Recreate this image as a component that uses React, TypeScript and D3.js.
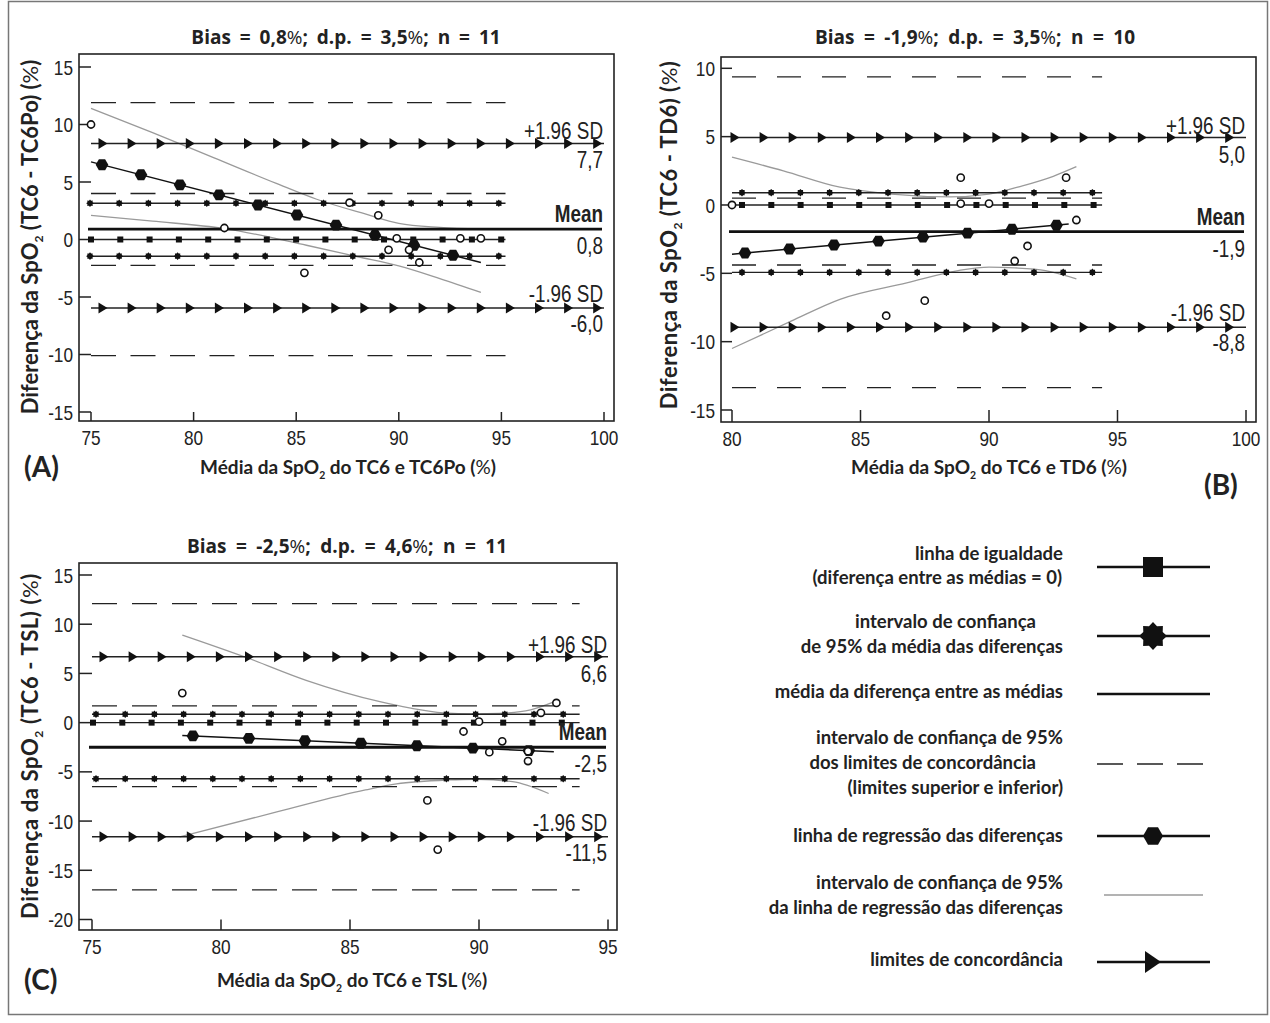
import * as d3 from "d3";

const SANS = "'Liberation Sans',Arial,sans-serif";
const BOLD = "Lato,'Noto Sans',sans-serif";
const TITLE = "'Open Sans','Noto Sans',sans-serif";

// ---------- panel A: TC6 x TC6Po ----------
const aAvg = [75, 81.5, 85.4, 87.6, 89.0, 89.5, 89.9, 90.5, 91.0, 93.0, 94.0];
const aDiff = [10, 1.0, -2.9, 3.2, 2.1, -0.9, 0.1, -0.9, -2.0, 0.1, 0.1];
const aLevels = [0.9, 8.35, -5.95]; // mean, +1.96 SD, -1.96 SD
const aMeanCI = [3.15, -1.45];
const aLoaCI = [11.9, 4.0, -2.25, -10.1];
const aRegression = [[75, 6.75], [94, -2.0]];
const aRegUpper = [[75, 11.4], [78, 9.3], [81, 7.1], [84, 4.9], [86, 3.5], [88.4, 2.2], [90, 1.4], [92, 1.05], [94, 0.9]];
const aRegLower = [[75, 2.1], [78, 1.6], [81.5, 0.95], [85.5, -0.5], [88, -1.5], [90, -2.3], [92, -3.4], [94, -4.6]];
const aValueLabels = ["7,7", "0,8", "-6,0"];

// ---------- panel B: TC6 x TD6 ----------
const bAvg = [80, 86.0, 87.5, 88.9, 88.9, 90.0, 91.0, 91.5, 93.0, 93.4];
const bDiff = [0, -8.1, -7.0, 2.0, 0.1, 0.1, -4.1, -3.0, 2.0, -1.1];
const bLevels = [-1.95, 4.93, -8.95];
const bMeanCI = [0.9, -4.93];
const bLoaCI = [9.37, 0.5, -4.39, -13.36];
const bRegression = [[80, -3.6], [93.1, -1.4]];
const bRegUpper = [[80, 3.5], [82, 2.5], [84.2, 1.3], [86.2, 0.8], [88.5, 0.6], [90, 0.8], [91.3, 1.4], [92.5, 2.1], [93.4, 2.8]];
const bRegLower = [[80, -10.5], [82.3, -8.5], [84.2, -6.9], [86.8, -5.7], [88.8, -4.8], [90, -4.55], [91, -4.6], [92.2, -4.8], [93.4, -5.4]];
const bValueLabels = ["5,0", "-1,9", "-8,8"];

// ---------- panel C: TC6 x TSL ----------
const cAvg = [78.5, 88.0, 88.4, 89.4, 90.0, 90.4, 90.9, 91.9, 91.9, 92.4, 93.0];
const cDiff = [3.0, -7.9, -12.9, -0.9, 0.1, -3.0, -1.9, -3.9, -2.9, 1.0, 2.0];
const cLevels = [-2.5, 6.7, -11.6];
const cMeanCI = [0.85, -5.7];
const cLoaCI = [12.1, 1.7, -6.5, -17.0];
const cRegression = [[78.5, -1.3], [92.9, -2.95]];
const cRegUpper = [[78.5, 8.9], [81, 6.6], [83.3, 4.3], [86.2, 2.1], [87.3, 1.5], [88.6, 1.0], [89.8, 0.9], [90.8, 0.95], [92, 1.3], [92.9, 2.1]];
const cRegLower = [[78.4, -11.6], [82.2, -9.05], [85.6, -6.84], [86.8, -6.23], [88.8, -5.82], [89.9, -5.75], [91.3, -6.0], [92.7, -7.2]];
const cValueLabels = ["6,6", "-2,5", "-11,5"];

const legendRows = [
  { lines: ["linha de igualdade", "(diferença entre as médias = 0)"], ends: [1063, 1062], symbol: "square" },
  { lines: ["intervalo de confiança", "de 95% da média das diferenças"], ends: [1036, 1063], symbol: "star" },
  { lines: ["média da diferença entre as médias"], ends: [1063], symbol: "line" },
  { lines: ["intervalo de confiança de 95%", "dos limites de concordância", "(limites superior e inferior)"], ends: [1063, 1036, 1063], symbol: "dash" },
  { lines: ["linha de regressão das diferenças"], ends: [1063], symbol: "hex" },
  { lines: ["intervalo de confiança de 95%", "da linha de regressão das diferenças"], ends: [1063, 1063], symbol: "gray" },
  { lines: ["limites de concordância"], ends: [1063], symbol: "tri" },
];
const legendY = [567, 636, 694, 764, 836, 895, 962];
const legendTextY = [[560, 584], [628, 653], [698], [744, 769, 794], [842], [889, 914], [966]];

function starPath(R, r, n = 8) {
  const pts = d3.range(2 * n).map((i) => {
    const a = (i * Math.PI) / n - Math.PI / 2;
    const rad = i % 2 ? r : R;
    return [rad * Math.cos(a), rad * Math.sin(a)];
  });
  return "M" + pts.map((p) => p.join(",")).join("L") + "Z";
}
function hexPath(r) {
  const pts = d3.range(6).map((i) => [r * Math.cos((i * Math.PI) / 3), r * Math.sin((i * Math.PI) / 3)]);
  return "M" + pts.map((p) => p.join(",")).join("L") + "Z";
}
function triPath(w, h) {
  return `M${-w / 2},${-h / 2}L${w / 2},0L${-w / 2},${h / 2}Z`;
}

// condensed text: Arial metrics squeezed horizontally
function NT({ x, y, anchor = "end", size = 21, bold = false, dy = undefined, children }) {
  return (
    <text transform={`translate(${x},${y}) scale(0.82,1)`} dy={dy} textAnchor={anchor} fontFamily={SANS}
      fontSize={size} fontWeight={bold ? "bold" : "normal"} fill="#222">
      {children}
    </text>
  );
}

function Panel({ c }) {
  const x = d3.scaleLinear().domain(c.xDomain).range(c.xRange);
  const y = d3.scaleLinear().domain(c.yDomain).range(c.yRange);
  const line = d3.line().x((d) => x(d[0])).y((d) => y(d[1]));
  const smooth = d3.line().x((d) => x(d[0])).y((d) => y(d[1])).curve(d3.curveMonotoneX);
  const [x0, x1] = c.xDomain;
  const xi = c.innerEnd;
  const f = c.frame;
  const along = (a, b, off, step) => {
    const out = [];
    for (let p = x(a) + off; p <= x(b) + 0.5; p += step) out.push(p);
    return out;
  };
  const [mean, up, lo] = c.levels;
  const reg = d3.scaleLinear().domain([c.reg[0][0], c.reg[1][0]]).range([c.reg[0][1], c.reg[1][1]]);
  const right = c.xRange[1] - 1;
  return (
    <g>
      <rect x={f.l} y={f.t} width={f.r - f.l} height={f.b - f.t} fill="none" stroke="#222" strokeWidth={1.6} />
      {c.xTicks.map((t) => (
        <g key={"x" + t}>
          <line x1={x(t)} x2={x(t)} y1={f.b} y2={y(c.yDomain[0])} stroke="#222" strokeWidth={1.5} />
          <NT x={x(t)} y={f.b + 24} anchor="middle">{t}</NT>
        </g>
      ))}
      {c.yTicks.map((t) => (
        <g key={"y" + t}>
          <line x1={f.l} x2={x(x0)} y1={y(t)} y2={y(t)} stroke="#222" strokeWidth={1.5} />
          <NT x={f.l - 6} y={y(t)} dy="0.36em">{t}</NT>
        </g>
      ))}
      {/* regression confidence band */}
      <path d={smooth(c.regUpper)} fill="none" stroke="#9a9a9a" strokeWidth={1.3} />
      <path d={smooth(c.regLower)} fill="none" stroke="#9a9a9a" strokeWidth={1.3} />
      {/* CI of limits of agreement */}
      {c.loaCI.map((v, i) => (
        <line key={"d" + i} x1={x(x0)} x2={x(xi)} y1={y(v)} y2={y(v)} stroke="#222" strokeWidth={1.3} strokeDasharray={c.dash} />
      ))}
      {/* equality line */}
      <line x1={x(x0)} x2={x(xi)} y1={y(0)} y2={y(0)} stroke="#222" strokeWidth={1.4} />
      {along(x0, xi, c.sqOff, 29.3).map((p, i) => (
        <rect key={"s" + i} x={p - 3} y={y(0) - 3} width={6} height={6} fill="#111" />
      ))}
      {/* CI of mean difference */}
      {c.meanCI.map((v, j) => (
        <g key={"m" + j}>
          <line x1={x(x0)} x2={x(xi)} y1={y(v)} y2={y(v)} stroke="#222" strokeWidth={1.4} />
          {along(x0, xi, c.starOff, 29.2).map((p, i) => (
            <path key={i} d={starPath(3.8, 2.8)} transform={`translate(${p},${y(v)})`} fill="#111" />
          ))}
        </g>
      ))}
      {/* mean difference */}
      <line x1={x(x0) - 3} x2={x(x1) - 2} y1={y(mean)} y2={y(mean)} stroke="#111" strokeWidth={2.8} />
      {/* limits of agreement */}
      {[up, lo].map((v, j) => (
        <g key={"l" + j}>
          <line x1={x(x0)} x2={x(x1)} y1={y(v)} y2={y(v)} stroke="#222" strokeWidth={1.5} />
          {along(x0, x1, c.triOff, 29.1).map((p, i) => (
            <path key={i} d={triPath(9, 11)} transform={`translate(${p},${y(v)})`} fill="#111" />
          ))}
        </g>
      ))}
      {/* regression of differences */}
      <path d={line(c.reg)} fill="none" stroke="#111" strokeWidth={1.5} />
      {along(c.reg[0][0], c.reg[1][0], c.hexOff, c.hexStep).map((p, i) => (
        <path key={"h" + i} d={hexPath(6.3)} transform={`translate(${p},${y(reg(x.invert(p)))})`} fill="#111" />
      ))}
      {/* observations */}
      {c.avg.map((a, i) => (
        <circle key={"p" + i} cx={x(a)} cy={y(c.diff[i])} r={3.6} fill="#fff" stroke="#111" strokeWidth={1.6} />
      ))}
      {/* right side labels */}
      <NT x={right} y={y(up) - 4} size={23}>+1.96 SD</NT>
      <NT x={right} y={y(up) + 25} size={23}>{c.valueLabels[0]}</NT>
      <NT x={right} y={y(mean) - 7} size={23} bold>Mean</NT>
      <NT x={right} y={y(mean) + 25} size={23}>{c.valueLabels[1]}</NT>
      <NT x={right} y={y(lo) - 6} size={23}>-1.96 SD</NT>
      <NT x={right} y={y(lo) + 24} size={23}>{c.valueLabels[2]}</NT>
    </g>
  );
}

const panels = [
  {
    frame: { l: 79, t: 54, r: 614, b: 421 }, xDomain: [75, 100], xRange: [91, 604], yDomain: [-15, 15], yRange: [412, 67],
    xTicks: [75, 80, 85, 90, 95, 100], yTicks: [-15, -10, -5, 0, 5, 10, 15], innerEnd: 95.2, dash: "25 14.5",
    avg: aAvg, diff: aDiff, levels: aLevels, meanCI: aMeanCI, loaCI: aLoaCI, reg: aRegression, regUpper: aRegUpper, regLower: aRegLower,
    valueLabels: aValueLabels, sqOff: 0, starOff: -1, triOff: 12, hexOff: 11, hexStep: 39,
  },
  {
    frame: { l: 721, t: 57, r: 1256, b: 422 }, xDomain: [80, 100], xRange: [732, 1246], yDomain: [-15, 10], yRange: [410, 68.3],
    xTicks: [80, 85, 90, 95, 100], yTicks: [-15, -10, -5, 0, 5, 10], innerEnd: 94.4, dash: "24 21",
    avg: bAvg, diff: bDiff, levels: bLevels, meanCI: bMeanCI, loaCI: bLoaCI, reg: bRegression, regUpper: bRegUpper, regLower: bRegLower,
    valueLabels: bValueLabels, sqOff: 10, starOff: 10, triOff: 3, hexOff: 13, hexStep: 44.5,
  },
  {
    frame: { l: 79, t: 563, r: 617, b: 930 }, xDomain: [75, 95], xRange: [92, 608], yDomain: [-20, 15], yRange: [919.5, 575],
    xTicks: [75, 80, 85, 90, 95], yTicks: [-20, -15, -10, -5, 0, 5, 10, 15], innerEnd: 93.9, dash: "25 15",
    avg: cAvg, diff: cDiff, levels: cLevels, meanCI: cMeanCI, loaCI: cLoaCI, reg: cRegression, regUpper: cRegUpper, regLower: cRegLower,
    valueLabels: cValueLabels, sqOff: 1, starOff: 4, triOff: 12, hexOff: 10.6, hexStep: 56,
  },
];

function Sub2() {
  return (
    <>
      <tspan>SpO</tspan>
      <tspan fontSize="0.55em" dy="5">2</tspan>
      <tspan dy="-5"> </tspan>
    </>
  );
}

function Title({ x, y, bias, sd, n, ws }) {
  return (
    <text x={x} y={y} textAnchor="middle" fontFamily={TITLE} fontWeight="bold" fontSize={19} wordSpacing={ws} fill="#222">
      Bias = {bias}<tspan fontWeight="normal">%</tspan>; d.p. = {sd}<tspan fontWeight="normal">%</tspan>; n = {n}
    </text>
  );
}

function LegendSymbol({ kind, y }) {
  const x0 = 1097, x1 = 1210, cx = 1153;
  if (kind === "gray") return <line x1={1104} x2={1203} y1={y} y2={y} stroke="#9a9a9a" strokeWidth={1.5} />;
  if (kind === "dash") return <line x1={x0} x2={1205} y1={y} y2={y} stroke="#222" strokeWidth={1.5} strokeDasharray="26 14" />;
  return (
    <g>
      <line x1={x0} x2={x1} y1={y} y2={y} stroke="#111" strokeWidth={2.5} />
      {kind === "square" && <rect x={cx - 10} y={y - 10} width={20} height={20} fill="#111" />}
      {kind === "star" && <path d={starPath(14, 10.5)} transform={`translate(${cx},${y})`} fill="#111" />}
      {kind === "hex" && <path d={hexPath(10)} transform={`translate(${cx},${y})`} fill="#111" />}
      {kind === "tri" && <path d={triPath(16, 22)} transform={`translate(${cx},${y})`} fill="#111" />}
    </g>
  );
}

export default function App() {
  return (
    <svg width={1270} height={1023} viewBox="0 0 1270 1023" style={{ position: "absolute", left: 0, top: 0, background: "#fff" }}>
      <rect x={0} y={0} width={1270} height={1023} fill="#fff" />
      <rect x={8.5} y={1.5} width={1259} height={1013} fill="none" stroke="#777" strokeWidth={1.5} />
      {panels.map((c, i) => (
        <Panel key={i} c={c} />
      ))}

      <Title x={346} y={44} bias="0,8" sd="3,5" n={11} ws={4.0} />
      <Title x={975} y={44} bias="-1,9" sd="3,5" n={10} ws={4.6} />
      <Title x={347} y={553} bias="-2,5" sd="4,6" n={11} ws={4.6} />

      <g fontFamily={BOLD} fontWeight="bold" fontSize={19} fill="#222">
        <text x={348} y={474} textAnchor="middle">
          Média da <Sub2 />do TC6 e TC6Po (<tspan fontWeight="normal">%</tspan>)
        </text>
        <text x={989} y={474} textAnchor="middle">
          Média da <Sub2 />do TC6 e TD6 (<tspan fontWeight="normal">%</tspan>)
        </text>
        <text x={352} y={987} textAnchor="middle">
          Média da <Sub2 /> do TC6 e TSL (<tspan fontWeight="normal">%</tspan>)
        </text>
      </g>
      <g fontFamily={BOLD} fontWeight="bold" fontSize={22} fill="#222" textAnchor="middle">
        <text transform="translate(38,237) rotate(-90)">
          Diferença da <Sub2 />(TC6 - TC6Po) (<tspan fontWeight="normal">%</tspan>)
        </text>
        <text transform="translate(677,235) rotate(-90)" letterSpacing={0.5}>
          Diferença da <Sub2 />(TC6 - TD6) (<tspan fontWeight="normal">%</tspan>)
        </text>
        <text transform="translate(38,746) rotate(-90)" letterSpacing={0.6}>
          Diferença da  <Sub2 />(TC6 - TSL) (<tspan fontWeight="normal">%</tspan>)
        </text>
      </g>

      <g fontFamily={BOLD} fontWeight="bold" fontSize={28} fill="#222">
        <text x={24} y={477}>(A)</text>
        <text x={1204} y={495}>(B)</text>
        <text x={24} y={990}>(C)</text>
      </g>

      <g fontFamily={BOLD} fontWeight="bold" fontSize={18.5} fill="#222" textAnchor="end">
        {legendRows.map((r, i) =>
          r.lines.map((t, j) => (
            <text key={i + "-" + j} x={r.ends[j]} y={legendTextY[i][j]}>{t}</text>
          ))
        )}
      </g>
      {legendRows.map((r, i) => (
        <LegendSymbol key={"ls" + i} kind={r.symbol} y={legendY[i]} />
      ))}
    </svg>
  );
}
